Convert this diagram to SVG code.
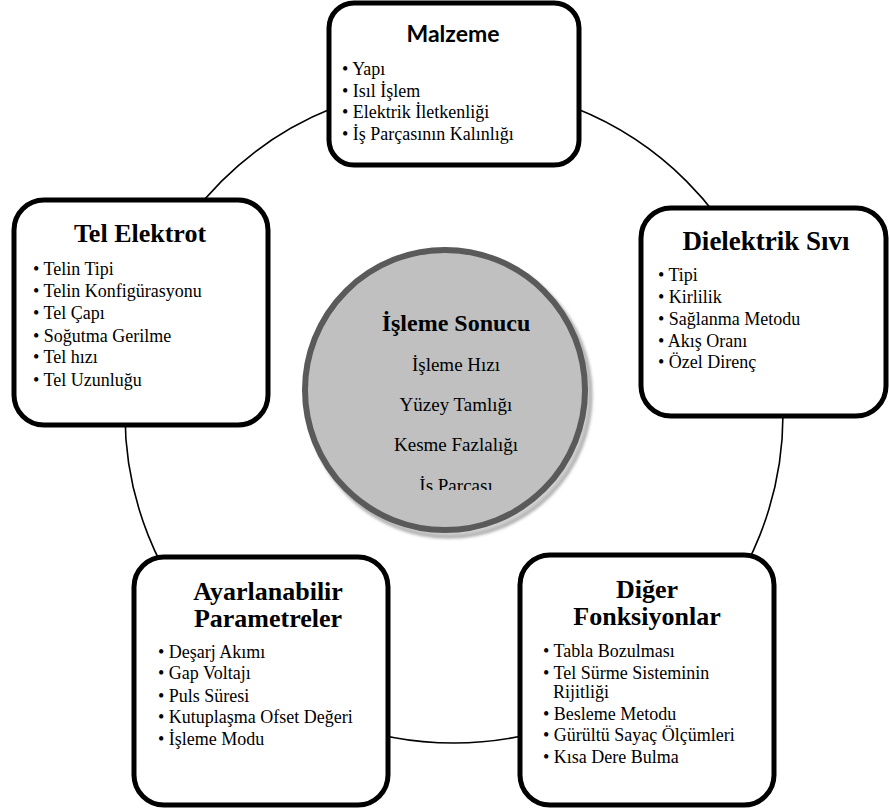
<svg xmlns="http://www.w3.org/2000/svg" width="889" height="811" viewBox="0 0 889 811" font-family="'Liberation Serif', 'Times New Roman', Times, serif">
<style>
.box{fill:#fff;stroke:#000;stroke-width:5}
.ring{fill:none;stroke:#000;stroke-width:1.6}
.t{font-weight:bold;text-anchor:middle;fill:#000}
.b{font-size:18px;fill:#000}
.c{font-size:19px;text-anchor:middle;fill:#000}
</style>
<defs>
<filter id="sh" x="-20%" y="-20%" width="140%" height="140%"><feGaussianBlur stdDeviation="1.5"/></filter>
<clipPath id="cc"><rect x="0" y="0" width="889" height="490"/></clipPath>
</defs>
<g id="connectors">
<circle class="ring" cx="454" cy="414" r="329"/>
</g>
<g id="center">
<circle cx="449" cy="395" r="142" fill="#d0d0d0" stroke="#a8a8a8" stroke-width="3" filter="url(#sh)"/>
<circle cx="445" cy="390" r="140" fill="#c0c0c0" stroke="#5a5a5a" stroke-width="6"/>
<text class="t" x="456" y="331" font-size="24">İşleme Sonucu</text>
<text class="c" x="456" y="371">İşleme Hızı</text>
<text class="c" x="456" y="411">Yüzey Tamlığı</text>
<text class="c" x="456" y="451">Kesme Fazlalığı</text>
<text class="c" x="456" y="492" clip-path="url(#cc)">İs Parcası</text>
</g>
<g id="malzeme">
<rect class="box" x="329" y="3" width="250" height="162" rx="25"/>
<text x="453" y="42" font-family="Lato, 'Open Sans', sans-serif" font-weight="bold" font-size="23" text-anchor="middle">Malzeme</text>
<text class="b" x="342" y="75">• Yapı</text>
<text class="b" x="342" y="97">• Isıl İşlem</text>
<text class="b" x="342" y="118">• Elektrik İletkenliği</text>
<text class="b" x="342" y="140">• İş Parçasının Kalınlığı</text>
</g>
<g id="tel-elektrot">
<rect class="box" x="14" y="200" width="254" height="225" rx="30"/>
<text class="t" x="140" y="242" font-size="26">Tel Elektrot</text>
<text class="b" x="33" y="275">• Telin Tipi</text>
<text class="b" x="33" y="297">• Telin Konfigürasyonu</text>
<text class="b" x="33" y="319">• Tel Çapı</text>
<text class="b" x="33" y="342">• Soğutma Gerilme</text>
<text class="b" x="33" y="363">• Tel hızı</text>
<text class="b" x="33" y="386">• Tel Uzunluğu</text>
</g>
<g id="dielektrik">
<rect class="box" x="641" y="208" width="245" height="208" rx="30"/>
<text class="t" x="766" y="250" font-size="27">Dielektrik Sıvı</text>
<text class="b" x="658" y="281">• Tipi</text>
<text class="b" x="658" y="303">• Kirlilik</text>
<text class="b" x="658" y="325">• Sağlanma Metodu</text>
<text class="b" x="658" y="347">• Akış Oranı</text>
<text class="b" x="658" y="368">• Özel Direnç</text>
</g>
<g id="ayarlanabilir">
<rect class="box" x="134" y="557" width="254" height="248" rx="30"/>
<text class="t" x="268" y="600" font-size="26">Ayarlanabilir</text>
<text class="t" x="268" y="627" font-size="26">Parametreler</text>
<text class="b" x="158" y="658">• Deşarj Akımı</text>
<text class="b" x="158" y="679">• Gap Voltajı</text>
<text class="b" x="158" y="702">• Puls Süresi</text>
<text class="b" x="158" y="723">• Kutuplaşma Ofset Değeri</text>
<text class="b" x="158" y="745">• İşleme Modu</text>
</g>
<g id="diger">
<rect class="box" x="520" y="555" width="254" height="250" rx="30"/>
<text class="t" x="647" y="598" font-size="26">Diğer</text>
<text class="t" x="647" y="625" font-size="26">Fonksiyonlar</text>
<text class="b" x="543" y="657">• Tabla Bozulması</text>
<text class="b" x="543" y="679">• Tel Sürme Sisteminin</text>
<text class="b" x="553" y="698">Rijitliği</text>
<text class="b" x="543" y="720">• Besleme Metodu</text>
<text class="b" x="543" y="741">• Gürültü Sayaç Ölçümleri</text>
<text class="b" x="543" y="763">• Kısa Dere Bulma</text>
</g>
</svg>
